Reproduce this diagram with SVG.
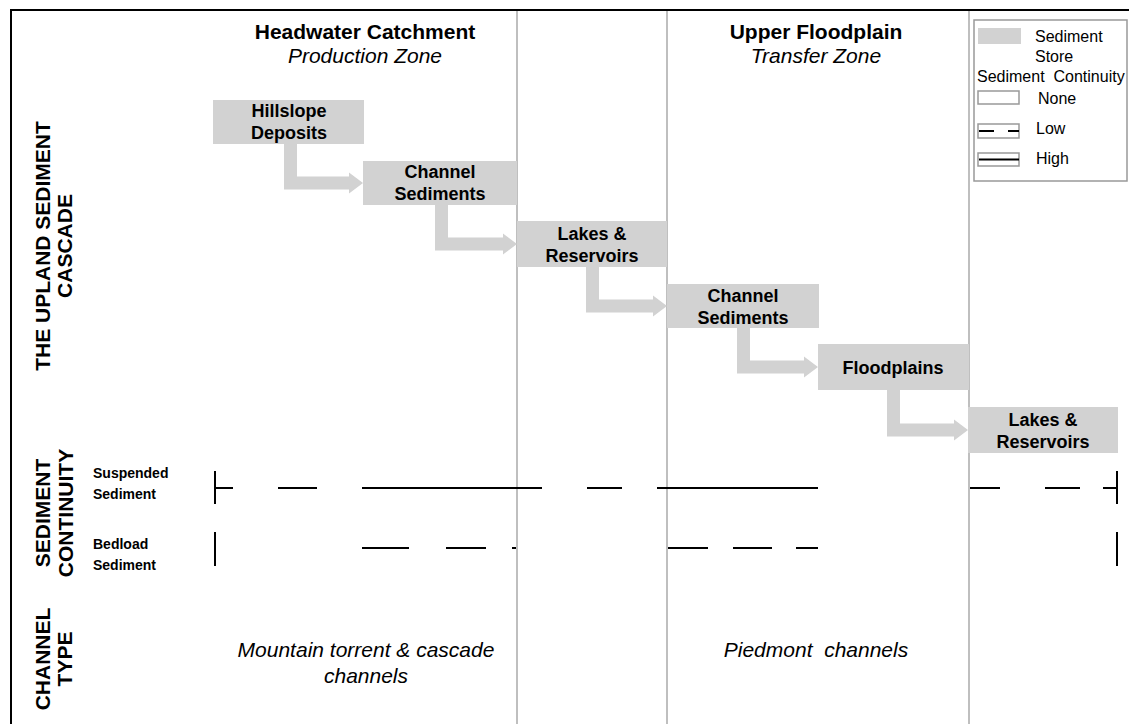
<svg xmlns="http://www.w3.org/2000/svg" width="1129" height="724" viewBox="0 0 1129 724">
<style>
.bg{fill:#ffffff}
.frame{stroke:#000;stroke-width:2;fill:none}
.sep{stroke:#bfbfbf;stroke-width:2}
.store{fill:#d2d2d2}
.flow{fill:#d2d2d2}
.cont{stroke:#000;stroke-width:2;fill:none}
.t{font-family:"Liberation Sans",Arial,sans-serif;fill:#000}
.hb{font-size:21px;font-weight:bold;text-anchor:middle}
.hi{font-size:21px;font-style:italic;text-anchor:middle}
.bx{font-size:18px;font-weight:bold;text-anchor:middle}
.side{font-size:21px;font-weight:bold;text-anchor:middle}
.row{font-size:14px;font-weight:bold}
.lg{font-size:16px}
.lgbox{fill:#fff;stroke:#999;stroke-width:1.5}
</style>
<rect class="bg" x="0" y="0" width="1129" height="724"/>
<g id="frame">
<path class="frame" d="M11,724 V10 H1129"/>
<line class="sep" x1="517" y1="11" x2="517" y2="724"/>
<line class="sep" x1="667" y1="11" x2="667" y2="724"/>
<line class="sep" x1="969" y1="11" x2="969" y2="724"/>
</g>
<g id="headers">
<text class="t hb" x="365" y="39">Headwater Catchment</text>
<text class="t hi" x="365" y="63">Production Zone</text>
<text class="t hb" x="816" y="39">Upper Floodplain</text>
<text class="t hi" x="816" y="63">Transfer Zone</text>
</g>
<g id="side-labels">
<text class="t side" transform="rotate(-90 50 246)" x="50" y="246">THE UPLAND SEDIMENT</text>
<text class="t side" transform="rotate(-90 72 246)" x="72" y="246">CASCADE</text>
<text class="t side" transform="rotate(-90 50 513)" x="50" y="513">SEDIMENT</text>
<text class="t side" transform="rotate(-90 73 513)" x="73" y="513">CONTINUITY</text>
<text class="t side" transform="rotate(-90 50 659)" x="50" y="659">CHANNEL</text>
<text class="t side" transform="rotate(-90 72 659)" x="72" y="659">TYPE</text>
</g>
<g id="connectors">
<path class="flow" d="M284,144 V189.5 H349 V193.5 L363,183 L349,172.5 V176.5 H297 V144 Z"/>
<path class="flow" d="M435,205 V250.5 H503 V254.5 L517,244 L503,233.5 V237.5 H448 V205 Z"/>
<path class="flow" d="M586,267 V312.5 H653 V316.5 L667,306 L653,295.5 V299.5 H599 V267 Z"/>
<path class="flow" d="M737,328 V373.5 H804 V377.5 L818,367 L804,356.5 V360.5 H750 V328 Z"/>
<path class="flow" d="M887,390 V436.5 H954 V440.5 L968,430 L954,419.5 V423.5 H900 V390 Z"/>
</g>
<g id="hillslope-deposits">
<rect class="store" x="213" y="100" width="151" height="44"/>
<text class="t bx" x="289" y="117">Hillslope</text>
<text class="t bx" x="289" y="139">Deposits</text>
</g>
<g id="channel-sediments-1">
<rect class="store" x="363" y="161" width="154" height="44"/>
<text class="t bx" x="440" y="178">Channel</text>
<text class="t bx" x="440" y="200">Sediments</text>
</g>
<g id="lakes-reservoirs-1">
<rect class="store" x="517" y="221" width="150" height="46"/>
<text class="t bx" x="592" y="240">Lakes &amp;</text>
<text class="t bx" x="592" y="262">Reservoirs</text>
</g>
<g id="channel-sediments-2">
<rect class="store" x="667" y="284" width="152" height="44"/>
<text class="t bx" x="743" y="302">Channel</text>
<text class="t bx" x="743" y="324">Sediments</text>
</g>
<g id="floodplains">
<rect class="store" x="818" y="344" width="151" height="46"/>
<text class="t bx" x="893" y="374">Floodplains</text>
</g>
<g id="lakes-reservoirs-2">
<rect class="store" x="968" y="407" width="150" height="46"/>
<text class="t bx" x="1043" y="426">Lakes &amp;</text>
<text class="t bx" x="1043" y="448">Reservoirs</text>
</g>
<g id="continuity">
<text class="t row" x="93" y="478">Suspended</text>
<text class="t row" x="93" y="499">Sediment</text>
<text class="t row" x="93" y="549">Bedload</text>
<text class="t row" x="93" y="570">Sediment</text>
<path class="cont" d="M215,471 V504 M215,488 H233 M278,488 H317 M362,488 H542 M587,488 H622 M657,488 H818 M970,488 H1000 M1045,488 H1080 M1103,488 H1117 M1117,471 V504"/>
<path class="cont" d="M215,532 V566 M362,548 H409 M446,548 H486 M512,548 H516 M668,548 H708 M733,548 H772 M796,548 H818 M1117,532 V566"/>
</g>
<g id="channel-type">
<text class="t hi" x="366" y="657">Mountain torrent &amp; cascade</text>
<text class="t hi" x="366" y="683">channels</text>
<text class="t hi" x="816" y="657" xml:space="preserve">Piedmont  channels</text>
</g>
<g id="legend">
<rect class="lgbox" x="974" y="20" width="153" height="161"/>
<rect class="store" x="978" y="28" width="43" height="16"/>
<text class="t lg" x="1035" y="42">Sediment</text>
<text class="t lg" x="1035" y="62">Store</text>
<text class="t lg" x="977" y="82" xml:space="preserve">Sediment  Continuity</text>
<rect class="lgbox" x="978" y="91" width="41" height="13"/>
<text class="t lg" x="1038" y="104">None</text>
<rect class="lgbox" x="978" y="124" width="41" height="14"/>
<path class="cont" d="M979,131 H994 M1008,131 H1019"/>
<text class="t lg" x="1036" y="134">Low</text>
<rect class="lgbox" x="978" y="153" width="41" height="13"/>
<path class="cont" d="M979,159.5 H1019"/>
<text class="t lg" x="1036" y="164">High</text>
</g>
</svg>
